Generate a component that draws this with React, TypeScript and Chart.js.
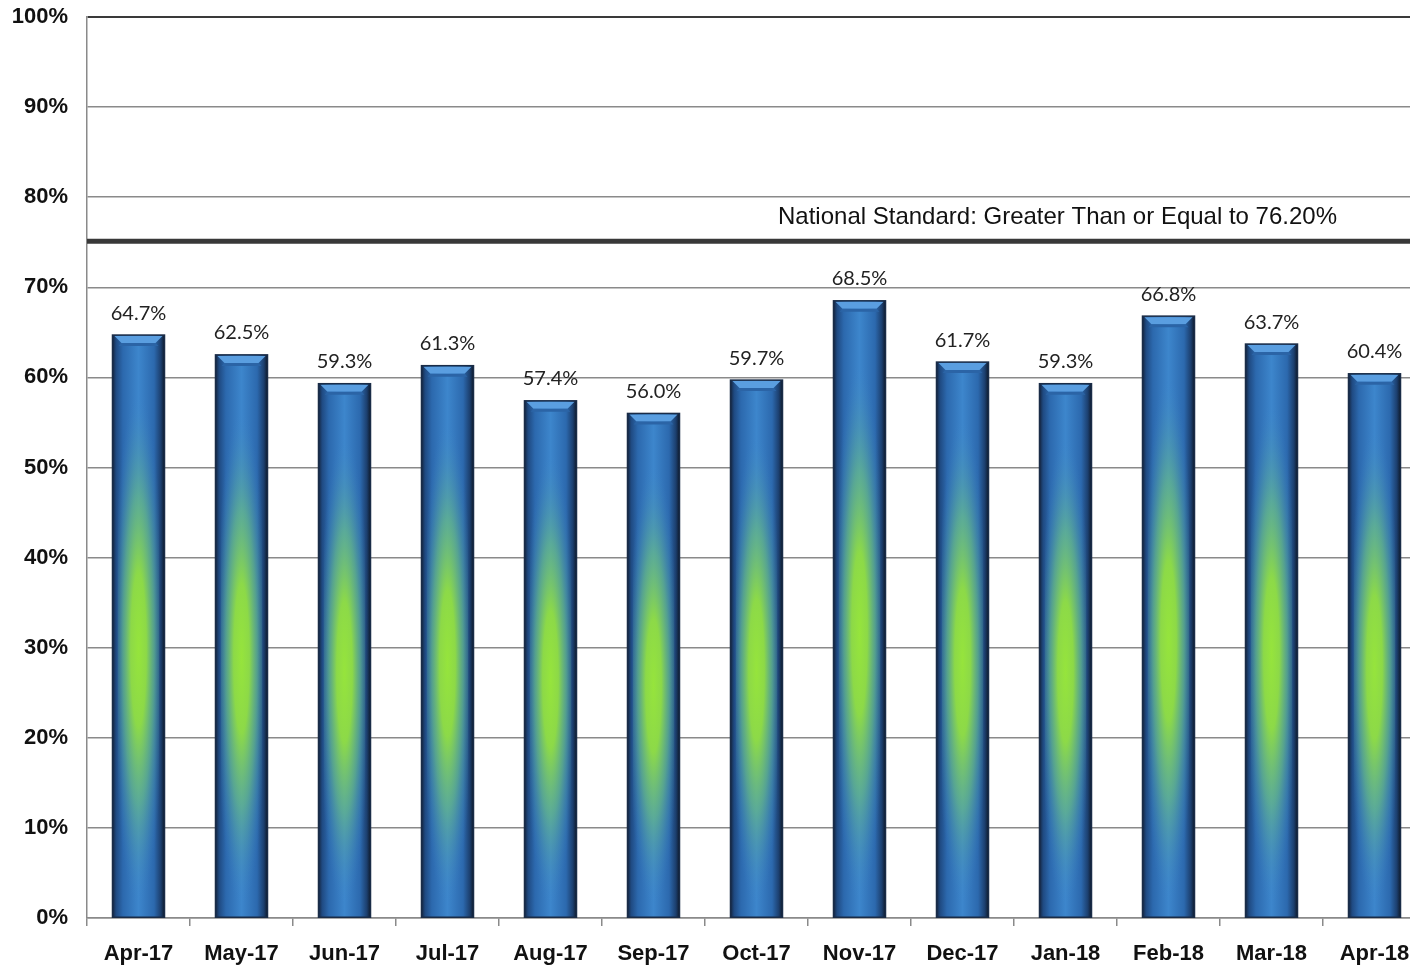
import React, { useEffect, useRef } from "react";
import { Chart, registerables } from "chart.js";

Chart.register(...registerables);

const categories = ["Apr-17", "May-17", "Jun-17", "Jul-17", "Aug-17", "Sep-17", "Oct-17", "Nov-17", "Dec-17", "Jan-18", "Feb-18", "Mar-18", "Apr-18"];
const values = [64.7, 62.5, 59.3, 61.3, 57.4, 56.0, 59.7, 68.5, 61.7, 59.3, 66.8, 63.7, 60.4];
const valueLabels = ["64.7%", "62.5%", "59.3%", "61.3%", "57.4%", "56.0%", "59.7%", "68.5%", "61.7%", "59.3%", "66.8%", "63.7%", "60.4%"];
const standardLineValue = 75.1;
const standardText = "National Standard: Greater Than or Equal to 76.20%";
const yTicks = [0, 10, 20, 30, 40, 50, 60, 70, 80, 90, 100];

const barPainter = {
  id: "barPainter",
  afterDatasetsDraw(chart: any) {
    const ctx = chart.ctx;
    const meta = chart.getDatasetMeta(0);
    meta.data.forEach((bar: any) => {
      const { x, y, base, width } = bar.getProps(["x", "y", "base", "width"], true);
      const left = x - width / 2;
      const right = x + width / 2;
      const top = y;
      const h = base - y;
      ctx.save();
      const g = ctx.createLinearGradient(left, 0, right, 0);
      g.addColorStop(0, "#14253f");
      g.addColorStop(0.07, "#1f4a82");
      g.addColorStop(0.2, "#2c69ae");
      g.addColorStop(0.5, "#3d86cc");
      g.addColorStop(0.8, "#2c69ae");
      g.addColorStop(0.93, "#1c3f6e");
      g.addColorStop(1, "#0e1a2c");
      ctx.fillStyle = g;
      ctx.fillRect(left, top, width, h);
      ctx.beginPath();
      ctx.rect(left + width * 0.1, top, width * 0.8, h);
      ctx.clip();
      const cy = top + h * 0.54;
      const ry = h * 0.44;
      const rx = width * 0.5;
      ctx.translate(x, cy);
      ctx.scale(1, ry / rx);
      const rg = ctx.createRadialGradient(0, 0, 0, 0, 0, rx);
      rg.addColorStop(0, "rgba(150,228,60,1)");
      rg.addColorStop(0.3, "rgba(145,222,65,0.95)");
      rg.addColorStop(0.6, "rgba(110,195,120,0.6)");
      rg.addColorStop(1, "rgba(60,130,200,0)");
      ctx.fillStyle = rg;
      ctx.beginPath();
      ctx.arc(0, 0, rx, 0, Math.PI * 2);
      ctx.fill();
      ctx.restore();
      ctx.save();
      ctx.fillStyle = "#5a9ee0";
      ctx.beginPath();
      ctx.moveTo(left + 2, top + 1);
      ctx.lineTo(right - 2, top + 1);
      ctx.lineTo(right - 9, top + 8);
      ctx.lineTo(left + 9, top + 8);
      ctx.closePath();
      ctx.fill();
      ctx.fillStyle = "#2b64a6";
      ctx.beginPath();
      ctx.moveTo(left + 9, top + 8);
      ctx.lineTo(right - 9, top + 8);
      ctx.lineTo(right - 6, top + 11);
      ctx.lineTo(left + 6, top + 11);
      ctx.closePath();
      ctx.fill();
      ctx.strokeStyle = "#1a2c47";
      ctx.lineWidth = 1.5;
      ctx.strokeRect(left, top, width, h);
      ctx.restore();
    });
  },
  afterDraw(chart: any) {
    const ctx = chart.ctx;
    const meta = chart.getDatasetMeta(0);
    const yScale = chart.scales.y;
    const area = chart.chartArea;
    ctx.save();
    ctx.fillStyle = "#222";
    ctx.font = "20px Lato";
    ctx.textAlign = "center";
    ctx.textBaseline = "middle";
    meta.data.forEach((bar: any, i: number) => {
      ctx.fillText(valueLabels[i], bar.x, bar.y - 22);
    });
    const sy = yScale.getPixelForValue(standardLineValue);
    ctx.strokeStyle = "#383838";
    ctx.lineWidth = 5;
    ctx.beginPath();
    ctx.moveTo(area.left, sy);
    ctx.lineTo(area.right, sy);
    ctx.stroke();
    ctx.fillStyle = "#111";
    ctx.font = "24px 'Liberation Sans', Arial, sans-serif";
    ctx.textAlign = "left";
    ctx.textBaseline = "middle";
    ctx.fillText(standardText, area.left + 691, sy - 24);
    ctx.restore();
  },
};

export default function App() {
  const ref = useRef<HTMLCanvasElement | null>(null);
  useEffect(() => {
    if (!ref.current) return;
    const chart = new Chart(ref.current, {
      type: "bar",
      data: {
        labels: categories,
        datasets: [
          {
            data: values,
            backgroundColor: "rgba(0,0,0,0)",
            borderWidth: 0,
            categoryPercentage: 1,
            barPercentage: 0.505,
          },
        ],
      },
      options: {
        animation: false,
        responsive: true,
        maintainAspectRatio: false,
        layout: { padding: { top: 17, left: 0, right: 0, bottom: 0 } },
        plugins: { legend: { display: false }, tooltip: { enabled: false }, title: { display: false } },
        scales: {
          x: {
            afterFit: (s: any) => {
              s.height = 51;
              s.paddingLeft = 0;
              s.paddingRight = 0;
            },
            grid: {
              offset: true,
              drawOnChartArea: false,
              drawTicks: true,
              tickLength: 8,
              color: "#8a8a8a",
              lineWidth: 1.5,
            },
            border: { color: "#8a8a8a", width: 1.5 },
            ticks: {
              color: "#111",
              font: { family: "'Liberation Sans', Arial, sans-serif", size: 22, weight: "bold" },
              padding: 15,
              maxRotation: 0,
              autoSkip: false,
            },
          },
          y: {
            min: 0,
            max: 100,
            afterFit: (s: any) => {
              s.width = 87;
              s.paddingTop = 0;
              s.paddingBottom = 0;
            },
            afterBuildTicks: (s: any) => {
              s.ticks = yTicks.map((v) => ({ value: v }));
            },
            grid: {
              drawTicks: false,
              color: (c: any) => (c.tick && c.tick.value === 100 ? "#3a3a3a" : "#8a8a8a"),
              lineWidth: (c: any) => (c.tick && c.tick.value === 100 ? 2 : 1.5),
            },
            border: { color: "#8a8a8a", width: 1.5 },
            ticks: {
              color: "#111",
              font: { family: "'Liberation Sans', Arial, sans-serif", size: 22, weight: "bold" },
              padding: 19,
              callback: (v: any) => v + "%",
            },
          },
        },
      },
      plugins: [barPainter],
    });
    return () => chart.destroy();
  }, []);
  return (
    <div style={{ position: "fixed", left: 0, top: 0, width: 1410, height: 969, overflow: "hidden", background: "#fff" }}>
      <div style={{ width: 1426, height: 969, position: "relative" }}>
        <canvas ref={ref} />
      </div>
    </div>
  );
}
